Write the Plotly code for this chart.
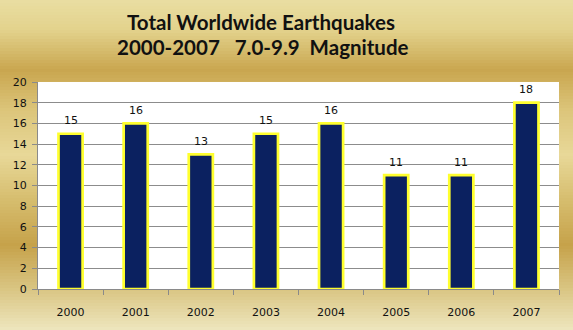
import plotly.graph_objects as go

years = ["2000", "2001", "2002", "2003", "2004", "2005", "2006", "2007"]
counts = [15, 16, 13, 15, 16, 11, 11, 18]
title_line1 = "Total Worldwide Earthquakes"
title_line2 = "2000-2007&nbsp;&nbsp;&nbsp;7.0-9.9&nbsp;&nbsp;Magnitude"

W, H = 573, 330
ML, MR, MT, MB = 38, 14, 82, 41
PW, PH = W - ML - MR, H - MT - MB

fig = go.Figure(go.Bar(
    x=years, y=counts, width=0.37,
    marker=dict(color="#0b2160", line=dict(color="#ffff2e", width=2.7)),
))

# value labels above bars (category index positions)
anns = []
for i, v in enumerate(counts):
    anns.append(dict(x=i, y=v, xref="x", yref="y", text=str(v), showarrow=False, yshift=13,
                     xanchor="center", yanchor="middle",
                     font=dict(family="DejaVu Sans", size=11, color="#111111")))

# gold metallic background stripes (styling)
stops = [(0, (233, 222, 162)), (30, (227, 210, 140)), (70, (201, 166, 79)),
         (110, (220, 197, 122)), (155, (232, 216, 152)), (200, (214, 189, 110)),
         (245, (198, 162, 74)), (290, (218, 198, 132)), (330, (238, 230, 190))]

def col(py):
    for (a, ca), (b, cb) in zip(stops, stops[1:]):
        if a <= py <= b:
            t = (py - a) / (b - a)
            c = [round(ca[i] + (cb[i] - ca[i]) * t) for i in range(3)]
            return "rgb(%d,%d,%d)" % tuple(c)
    return "rgb(238,230,190)"

shapes = []
step = 3
for py in range(0, H, step):
    shapes.append(dict(type="rect", xref="paper", yref="paper", layer="below",
                       x0=-ML / PW, x1=(W - ML) / PW,
                       y0=(H - MB - py - step) / PH, y1=(H - MB - py) / PH,
                       fillcolor=col(py + step / 2), line=dict(width=0)))
shapes.append(dict(type="rect", xref="paper", yref="paper", layer="below",
                   x0=0, x1=1, y0=0, y1=1, fillcolor="white", line=dict(width=0)))

anns += [
    dict(text="<b>%s</b>" % title_line1, xref="paper", yref="paper",
         x=(261 - ML) / PW, y=(H - MB - 22) / PH, xanchor="center", yanchor="middle",
         showarrow=False, font=dict(family="Lato", size=20.5, color="#111111")),
    dict(text="<b>%s</b>" % title_line2, xref="paper", yref="paper",
         x=(263 - ML) / PW, y=(H - MB - 47) / PH, xanchor="center", yanchor="middle",
         showarrow=False, font=dict(family="Lato", size=20.5, color="#111111")),
]

fig.update_layout(
    width=W, height=H, margin=dict(l=ML, r=MR, t=MT, b=MB),
    paper_bgcolor="#e3d08c", plot_bgcolor="white",
    shapes=shapes, showlegend=False, annotations=anns,
)
fig.update_xaxes(type="category", range=[-0.5, 7.5], showline=True, linecolor="#8a8a8a", linewidth=1,
                 ticks="outside", tickson="boundaries", ticklen=5, tickcolor="#8a8a8a",
                 ticklabelstandoff=13, tickangle=0,
                 tickfont=dict(family="DejaVu Sans", size=11, color="#111111"),
                 showgrid=False)
fig.update_yaxes(range=[0, 20], dtick=2, showline=True, linecolor="#8a8a8a", linewidth=1,
                 ticks="outside", ticklen=5, tickcolor="#8a8a8a", ticklabelstandoff=3,
                 tickfont=dict(family="DejaVu Sans", size=11, color="#111111"),
                 showgrid=True, gridcolor="#8c8c8c", gridwidth=1, zeroline=False)

fig.write_html("out.html")
